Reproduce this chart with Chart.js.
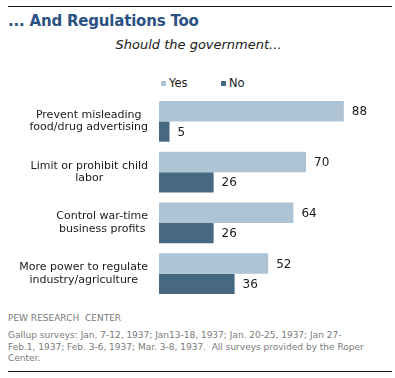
<!DOCTYPE html>
<html>
<head>
<meta charset="utf-8">
<script src="https://cdn.jsdelivr.net/npm/chart.js@4.4.1/dist/chart.umd.min.js"></script>
<style>
  html, body { margin: 0; padding: 0; background: #ffffff; }
  body { width: 395px; height: 378px; position: relative; overflow: hidden; font-family: "DejaVu Sans", Verdana, sans-serif; }
  .rule { position: absolute; left: 8px; width: 384px; height: 1px; background: #1a1a1a; }
  #title { position: absolute; left: 8px; top: 12px; font-size: 15px; font-weight: bold; color: #2c5183; letter-spacing: -0.2px; white-space: nowrap; }
  #subtitle { position: absolute; left: 0; width: 397px; top: 37px; text-align: center; font-size: 13px; font-style: italic; color: #1a1a1a; }
  #legend { position: absolute; top: 76px; left: 0; width: 395px; height: 14px; font-size: 11.5px; color: #1a1a1a; }
  .lg { position: absolute; top: 0; white-space: nowrap; line-height: 14px; }
  .lg i { display: inline-block; width: 5px; height: 5px; margin-right: 3px; vertical-align: 1px; }
  #chartWrap { position: absolute; left: 0; top: 90px; width: 395px; height: 215px; }
  #source { position: absolute; left: 8px; top: 313px; font-size: 9px; color: #7a7a7a; white-space: nowrap; }
  #note { position: absolute; left: 8px; top: 330px; font-size: 9px; line-height: 11.5px; color: #7a7a7a; white-space: nowrap; }
</style>
</head>
<body>
<div class="rule" style="top:6px"></div>
<div id="title">... And Regulations Too</div>
<div id="subtitle">Should the government...</div>
<div id="legend"></div>
<div id="chartWrap"><canvas id="c"></canvas></div>
<div id="source">PEW RESEARCH&nbsp; CENTER</div>
<div id="note">Gallup surveys: Jan. 7-12, 1937; Jan13-18, 1937; Jan. 20-25, 1937; Jan 27-<br>Feb.1, 1937; Feb. 3-6, 1937; Mar. 3-8, 1937.&nbsp; All surveys provided by the Roper<br>Center.</div>
<div class="rule" style="top:371px"></div>
<script>
const categories = [
  ["Prevent misleading", "food/drug advertising"],
  ["Limit or prohibit child", "labor"],
  ["Control war-time", "business profits"],
  ["More power to regulate", "industry/agriculture"]
];
const seriesNames = ["Yes", "No"];
const yesValues = [88, 70, 64, 52];
const noValues = [5, 26, 26, 36];
const seriesColors = ["#aec4d4", "#466880"];

// HTML legend built from the series names and colours
const legendPositions = [161, 221];
const legendEl = document.getElementById("legend");
seriesNames.forEach((name, i) => {
  const item = document.createElement("span");
  item.className = "lg";
  item.style.left = legendPositions[i] + "px";
  const sw = document.createElement("i");
  sw.style.background = seriesColors[i];
  item.appendChild(sw);
  item.appendChild(document.createTextNode(name));
  legendEl.appendChild(item);
});

const FONT = "11px 'DejaVu Sans', Verdana, sans-serif";

const valueLabels = {
  id: "valueLabels",
  afterDatasetsDraw(chart) {
    const ctx = chart.ctx;
    ctx.save();
    ctx.font = "12px 'DejaVu Sans', Verdana, sans-serif";
    ctx.fillStyle = "#1a1a1a";
    ctx.textBaseline = "middle";
    ctx.textAlign = "left";
    chart.data.datasets.forEach((ds, di) => {
      const meta = chart.getDatasetMeta(di);
      meta.data.forEach((bar, i) => {
        ctx.fillText(String(ds.data[i]), bar.x + 8, bar.y + 1);
      });
    });
    ctx.restore();
  }
};

// Category labels: block right-aligned to the axis, lines centred within the block
const categoryLabels = {
  id: "categoryLabels",
  afterDraw(chart) {
    const ctx = chart.ctx;
    const scale = chart.scales.y;
    const right = scale.right - 11;
    const lh = 12.5;
    ctx.save();
    ctx.font = FONT;
    ctx.fillStyle = "#1a1a1a";
    ctx.textBaseline = "middle";
    ctx.textAlign = "center";
    chart.data.labels.forEach((lab, i) => {
      const lines = Array.isArray(lab) ? lab : [lab];
      const maxW = Math.max(...lines.map(l => ctx.measureText(l).width));
      const cx = right - maxW / 2;
      const cy = scale.getPixelForTick(i);
      lines.forEach((l, j) => {
        ctx.fillText(l, cx, cy + (j - (lines.length - 1) / 2) * lh);
      });
    });
    ctx.restore();
  }
};

new Chart(document.getElementById("c"), {
  type: "bar",
  data: {
    labels: categories,
    datasets: [
      { label: seriesNames[0], data: yesValues, backgroundColor: seriesColors[0] },
      { label: seriesNames[1], data: noValues, backgroundColor: seriesColors[1] }
    ]
  },
  options: {
    indexAxis: "y",
    responsive: true,
    maintainAspectRatio: false,
    animation: false,
    layout: { padding: { top: 6, right: 26, bottom: 6, left: 0 } },
    datasets: { bar: { categoryPercentage: 0.8, barPercentage: 1.0 } },
    scales: {
      x: { display: false, min: 0, max: 100 },
      y: {
        grid: { display: false },
        border: { display: false },
        ticks: { display: false },
        afterFit(scale) { scale.width = 159; }
      }
    },
    plugins: {
      legend: { display: false },
      tooltip: { enabled: false }
    }
  },
  plugins: [valueLabels, categoryLabels]
});
</script>
</body>
</html>
